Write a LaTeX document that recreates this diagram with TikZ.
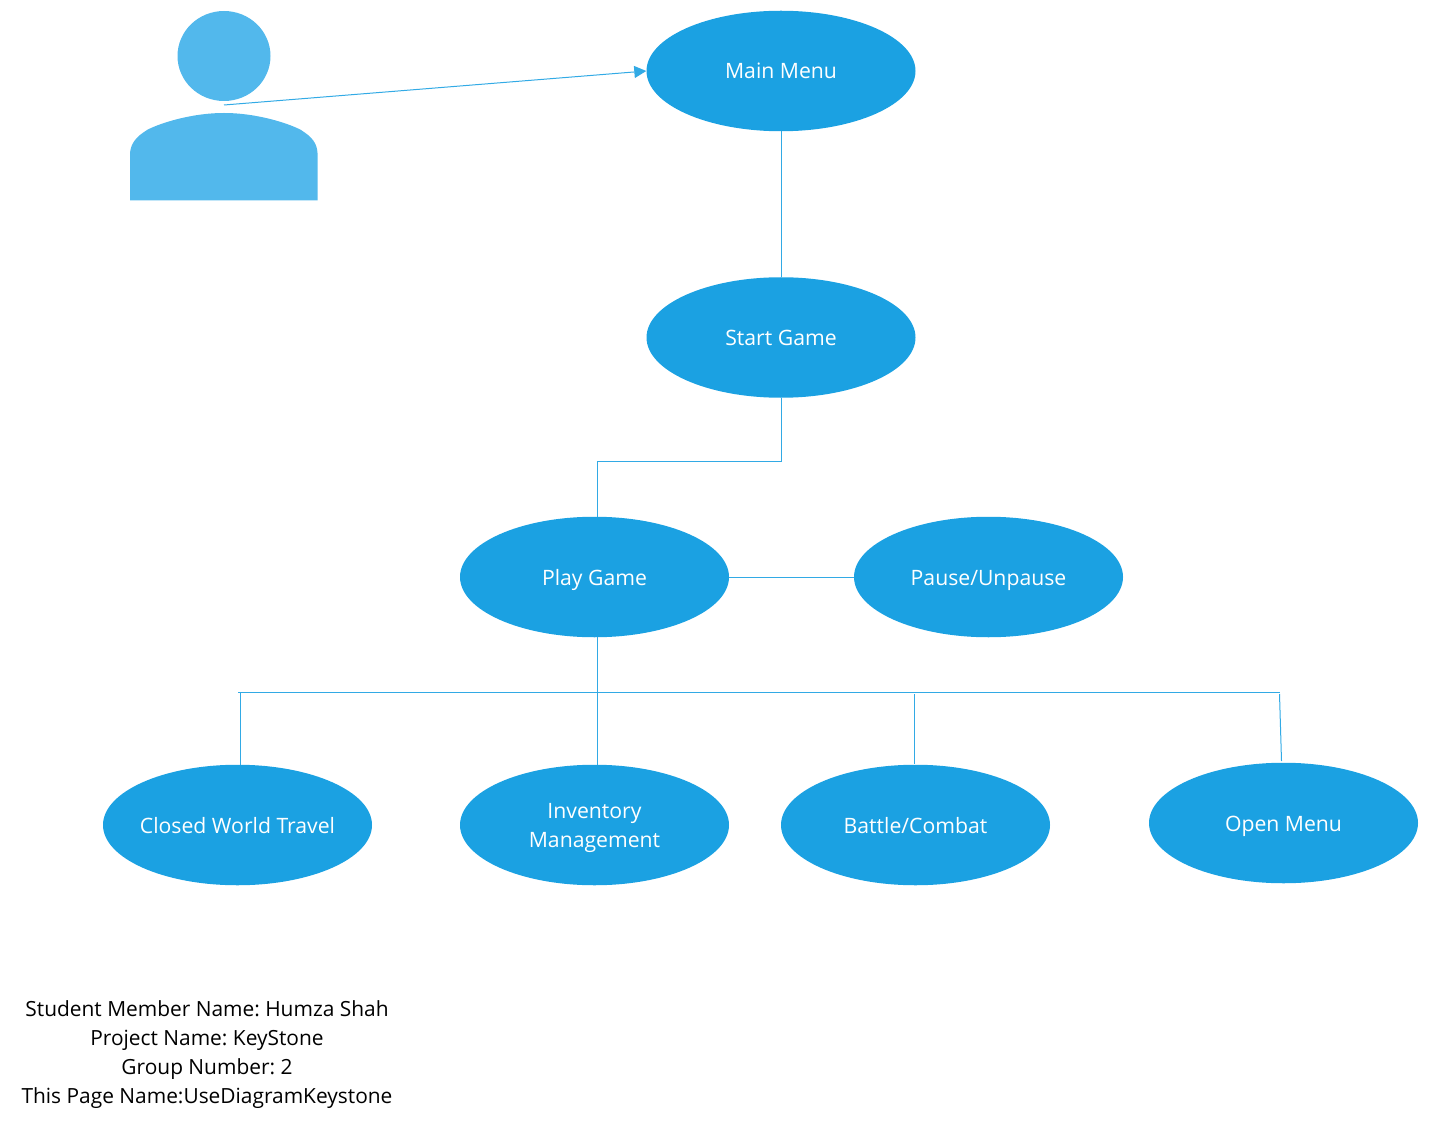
\documentclass[tikz,border=0pt]{standalone}
\usepackage{fontspec}
\setmainfont{Open Sans}
\frenchspacing
\usetikzlibrary{arrows.meta,shapes.geometric}
\definecolor{UseBlue}{HTML}{1BA1E2}
\definecolor{ActorBlue}{HTML}{52B8EC}
\newcommand{\usestrut}{\rule[-6pt]{0pt}{28pt}}
\begin{document}
\begin{tikzpicture}[x=1pt,y=-1pt,
    usecase/.style={ellipse,fill=UseBlue,minimum width=269pt,minimum height=120.5pt,inner xsep=-12pt,inner ysep=0pt,text=white,font=\fontsize{21.2}{29}\selectfont,align=center},
    link/.style={draw=UseBlue!90!white,line width=1pt}]
    \useasboundingbox (0,0) rectangle (1429,1131);
    % actor
    \fill[ActorBlue] (224,56) ellipse[x radius=46.5,y radius=45];
    \fill[ActorBlue] (130,200.5)--(130,153) .. controls (131,143) and (136,137) .. (147,130) .. controls (158,124) and (190,113) .. (224,113) .. controls (258,113) and (290,124) .. (301,130) .. controls (312,137) and (317,143) .. (317.5,153)--(317.5,200.5)--cycle;
    \coordinate (actor) at (224,105);
    % use cases
    \node[usecase] (mainmenu) at (781,71) {\usestrut Main Menu};
    \node[usecase] (startgame) at (781,337.5) {\usestrut Start Game};
    \node[usecase] (playgame) at (594.5,577) {\usestrut Play Game};
    \node[usecase] (pausegame) at (988.5,577) {\usestrut Pause/Unpause};
    \node[usecase] (worldtravel) at (237.5,825) {\usestrut Closed World Travel};
    \node[usecase] (inventory) at (594.5,825) {\usestrut Inventory\\\usestrut Management};
    \node[usecase] (battle) at (915.5,825) {\usestrut Battle/Combat};
    \node[usecase] (openmenu) at (1283.5,823) {\usestrut Open Menu};
    % helper points on the lines
    \coordinate (bendright) at (781,461);
    \coordinate (bendleft) at (597.5,461);
    \coordinate (playtop) at (597.5,517);
    \coordinate (playbottom) at (597.5,637);
    \coordinate (inventorytop) at (597.5,765);
    \coordinate (busleft) at (238,692);
    \coordinate (busright) at (1279.5,692);
    \coordinate (traveltop) at (240,692);
    \coordinate (travelend) at (240,765);
    \coordinate (battletop) at (914.5,694);
    \coordinate (battleend) at (914.5,764);
    \coordinate (opentop) at (1279.5,694);
    \coordinate (openend) at (1281.5,761);
    % connectors
    \draw[link,-{Triangle[length=12pt,width=12pt]}] (actor)--(mainmenu.west);
    \draw[link] (mainmenu.south)--(startgame.north);
    \draw[link] (startgame.south)--(bendright)--(bendleft)--(playtop);
    \draw[link] (playgame.east)--(pausegame.west);
    \draw[link] (playbottom)--(inventorytop);
    \draw[link] (busleft)--(busright);
    \draw[link] (traveltop)--(travelend);
    \draw[link] (battletop)--(battleend);
    \draw[link] (opentop)--(openend);
    % footer
    \node[font=\fontsize{20.9}{29}\selectfont,align=center,text=black,inner sep=0pt] (footer) at (207,1055) {Student Member Name: Humza Shah\\Project Name: KeyStone\\Group Number: 2\\This Page Name:UseDiagramKeystone};
\end{tikzpicture}
\end{document}
